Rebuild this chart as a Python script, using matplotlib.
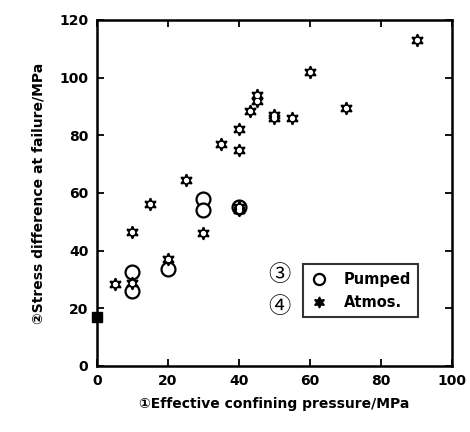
import matplotlib
matplotlib.use("Agg")
import matplotlib.pyplot as plt
from matplotlib.lines import Line2D

plt.rcParams['font.family'] = ['DejaVu Sans', 'Noto Sans CJK SC']
plt.rcParams['font.weight'] = 'bold'
plt.rcParams['axes.labelweight'] = 'bold'

# ----------------------------
# Data (MPa)
# ----------------------------
pumped_x = [10, 10, 20, 30, 30, 40]
pumped_y = [32.5, 26, 33.5, 58, 54, 55]

atmos_x = [5, 10, 10, 15, 20, 25, 30, 35, 40, 40, 40, 40, 43, 45, 45, 50, 50, 55, 60, 70, 90]
atmos_y = [28.5, 28.6, 46.5, 56, 37, 64.5, 46, 77, 82, 75, 55, 54, 88.5, 94, 92, 87, 86, 86, 102, 89.5, 113]

uniaxial_x = [0]
uniaxial_y = [17]

xticks = [0, 20, 40, 60, 80, 100]
yticks = [0, 20, 40, 60, 80, 100, 120]

fig = plt.figure(figsize=(4.7, 4.32), dpi=100)
ax = fig.add_axes([0.206, 0.153, 0.756, 0.801])

# open circles: pumped samples
ax.plot(pumped_x, pumped_y, 'o', ms=10, mfc='white', mec='black', mew=1.6, ls='none', zorder=3)

# six-pointed stars with a white centre: atmospheric samples
ax.plot(atmos_x, atmos_y, marker=(6, 1, 0), ms=9, color='black', mew=1.2, ls='none', zorder=4)
ax.plot(atmos_x, atmos_y, 'o', ms=2.8, color='white', ls='none', zorder=5)

ax.plot(uniaxial_x, uniaxial_y, 's', ms=7, color='black', ls='none', zorder=5, clip_on=False)

ax.set_xlim(0, 100)
ax.set_ylim(0, 120)
ax.set_xticks(xticks)
ax.set_yticks(yticks)
ax.tick_params(direction='in', top=True, right=True, length=5, width=1.3, labelsize=10, pad=6)
for s in ax.spines.values():
    s.set_linewidth(1.8)

ax.set_xlabel('①Effective confining pressure/MPa', fontsize=10, labelpad=6)
ax.set_ylabel('②Stress difference at failure/MPa', fontsize=10, labelpad=10)

handles = [
    Line2D([], [], marker='o', ms=8, mfc='white', mec='black', mew=1.6, ls='none'),
    Line2D([], [], marker=(6, 1, 0), ms=8, color='black', ls='none'),
]
leg = ax.legend(handles, ['Pumped', 'Atmos.'], loc='lower right', bbox_to_anchor=(0.925, 0.12),
                frameon=True, fancybox=False, edgecolor='black', fontsize=10.5,
                handletextpad=1.0, borderpad=0.5, labelspacing=0.55, handlelength=1.3)
leg.get_frame().set_linewidth(1.5)

ax.text(0.515, 0.262, '③', transform=ax.transAxes, fontsize=16,
        family=['DejaVu Serif', 'Noto Sans CJK SC'], fontweight='normal', ha='center', va='center')
ax.text(0.515, 0.170, '④', transform=ax.transAxes, fontsize=16,
        family=['DejaVu Serif', 'Noto Sans CJK SC'], fontweight='normal', ha='center', va='center')

fig.savefig('out.png', dpi=100)
